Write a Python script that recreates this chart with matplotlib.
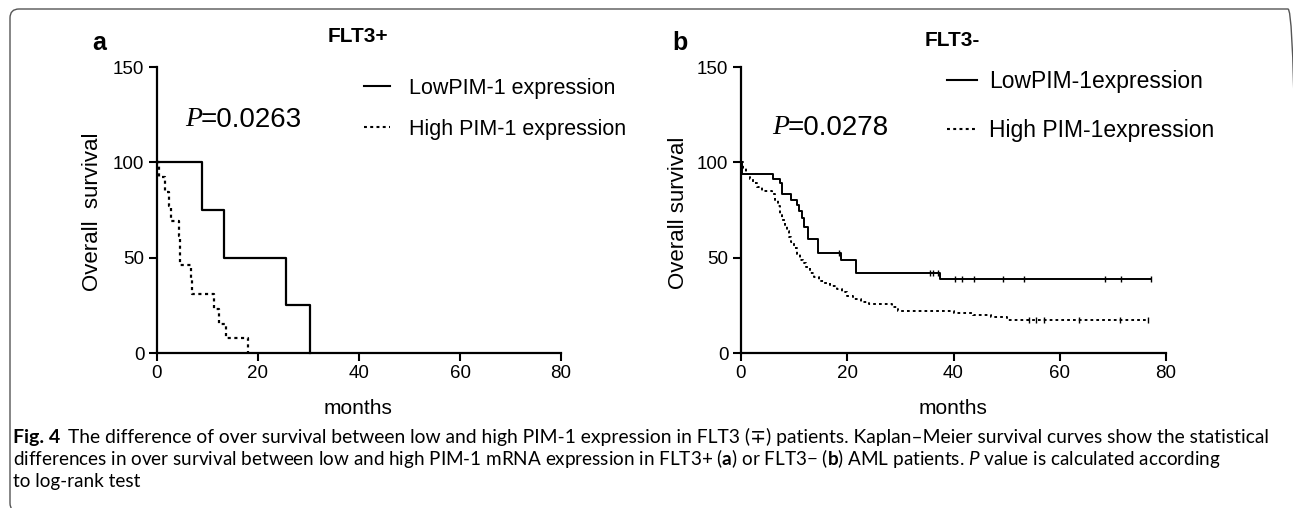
import matplotlib
matplotlib.use("Agg")
import matplotlib.pyplot as plt
from matplotlib.patches import FancyBboxPatch
from matplotlib.transforms import IdentityTransform
from matplotlib.lines import Line2D

plt.rcParams['font.family'] = ['Liberation Sans', 'DejaVu Sans']
plt.rcParams['mathtext.fontset'] = 'custom'
plt.rcParams['mathtext.rm'] = 'Lato'
plt.rcParams['mathtext.it'] = 'Lato:italic'
plt.rcParams['mathtext.bf'] = 'Lato:bold'

# panel a: FLT3+
low_a_t = [0, 9.0, 13.2, 25.5, 30.3]
low_a_s = [100, 75, 50, 25, 0]
high_a_t = [0, 0.4, 1.5, 2.4, 2.7, 4.3, 4.5, 4.6, 6.8, 7.0, 11.3, 12.3, 13.6, 18.0]
high_a_s = [100, 92.3, 84.6, 76.9, 69.2, 61.5, 53.8, 46.2, 38.5, 30.8, 23.1, 15.4, 7.7, 0]

# panel b: FLT3-
low_b_t = [0, 0.2, 6.0, 7.3, 7.8, 9.5, 10.5, 11.0, 11.5, 11.8, 12.6, 14.5, 18.8, 21.7, 37.4, 77.2]
low_b_s = [100, 93.7, 91.5, 89, 83.5, 80.5, 77.5, 74.5, 71, 66, 60, 52.5, 49, 42, 39, 39]
low_b_cens_t = [18.4, 35.5, 36.2, 37.0, 40.2, 41.6, 43.9, 49.3, 53.3, 68.6, 71.6, 77.2]
low_b_cens_s = [52.5, 42, 42, 42, 39, 39, 39, 39, 39, 39, 39, 39]
high_b_t = [0, 0.4, 1.0, 1.6, 2.2, 3.0, 4.0, 5.8, 6.4, 6.9, 7.3, 7.8, 8.3, 8.7, 9.1, 9.5,
            10.0, 10.6, 11.1, 11.7, 12.2, 13.0, 13.8, 14.6, 15.6, 16.8, 18.0, 19.0, 20.0,
            21.0, 22.5, 24.0, 28.5, 29.5, 38.0, 40.0, 43.7, 47.0, 50.0, 76.7]
high_b_s = [100, 97, 94, 91.5, 89, 87, 85, 83.5, 80, 77, 73, 70, 67, 64, 61, 58,
            55, 52, 49, 47, 45, 42, 40, 38, 36.5, 35, 33.5, 32, 30,
            28.5, 27, 25.5, 24, 22, 22, 21, 20, 19, 17.5, 17.5]
high_b_cens_t = [54.3, 55.5, 57.0, 63.7, 71.3, 76.7]
high_b_cens_s = [17.5, 17.5, 17.5, 17.5, 17.5, 17.5]

xticks = [0, 20, 40, 60, 80]
yticks = [0, 50, 100, 150]

fig = plt.figure(figsize=(12.93, 5.08), dpi=100)

# rounded frame, cut off at the bottom and right like the page crop
frame = FancyBboxPatch((10, -4), 1287, 503, boxstyle="round,pad=0,rounding_size=9",
                       transform=IdentityTransform(), fill=False, edgecolor='#555555', lw=1.0)
fig.patches.append(frame)

W, H = 1293, 508
ax_a = fig.add_axes([157 / W, 1 - 353 / H, 404 / W, 286 / H])
ax_b = fig.add_axes([741 / W, 1 - 353 / H, 425 / W, 286 / H])

dot = (0, (1.4, 1.6))

ax_a.step(low_a_t, low_a_s, where='post', color='black', lw=1.6, clip_on=False)
ax_a.step(high_a_t, high_a_s, where='post', color='black', lw=1.6, ls=dot, clip_on=False)

ax_b.step(low_b_t, low_b_s, where='post', color='black', lw=1.4, clip_on=False)
ax_b.step(high_b_t, high_b_s, where='post', color='black', lw=1.4, ls=dot, clip_on=False)
ax_b.plot(low_b_cens_t, low_b_cens_s, ls='none', marker='|', ms=5, mew=1.0, color='black')
ax_b.plot(high_b_cens_t, high_b_cens_s, ls='none', marker='|', ms=4, mew=1.0, color='black')

for ax in (ax_a, ax_b):
    ax.set_xlim(0, 80)
    ax.set_ylim(0, 150)
    ax.set_xticks(xticks)
    ax.set_yticks(yticks)
    for side in ('top', 'right'):
        ax.spines[side].set_visible(False)
    for side in ('left', 'bottom'):
        ax.spines[side].set_linewidth(1.6)
    ax.tick_params(direction='out', length=6, width=1.5, labelsize=13.5, pad=3)
    ax.patch.set_alpha(0)

# titles, panel letters, axis labels
fig.text(358 / W, 1 - 37 / H, 'FLT3+', ha='center', va='center', fontsize=15, fontweight='bold')
fig.text(952 / W, 1 - 40 / H, 'FLT3-', ha='center', va='center', fontsize=15, fontweight='bold')
fig.text(99 / W, 1 - 43 / H, 'a', ha='center', va='center', fontsize=18, fontweight='bold')
fig.text(680 / W, 1 - 43 / H, 'b', ha='center', va='center', fontsize=18, fontweight='bold')
fig.text(93 / W, 1 - 212 / H, 'Overall  survival', rotation=90, ha='center', va='center', fontsize=16)
fig.text(679 / W, 1 - 213 / H, 'Overall survival', rotation=90, ha='center', va='center', fontsize=16)
fig.text(358 / W, 1 - 408 / H, 'months', ha='center', va='center', fontsize=15)
fig.text(953 / W, 1 - 408 / H, 'months', ha='center', va='center', fontsize=15)

# p values
fig.text(185 / W, 1 - 120 / H, 'P', ha='left', va='center', fontsize=20,
         family='Liberation Serif', style='italic')
fig.text(201 / W, 1 - 120 / H, '=0.0263', ha='left', va='center', fontsize=20)
fig.text(772 / W, 1 - 128 / H, 'P', ha='left', va='center', fontsize=20,
         family='Liberation Serif', style='italic')
fig.text(788 / W, 1 - 128 / H, '=0.0278', ha='left', va='center', fontsize=20)

# legends
h_low = Line2D([], [], color='black', lw=1.5)
h_high = Line2D([], [], color='black', lw=1.5, ls=dot)
ax_a.legend([h_low, h_high], ['LowPIM-1 expression', 'High PIM-1 expression'],
            loc='upper left', bbox_to_anchor=(364 / W, 1 - 78 / H), bbox_transform=fig.transFigure,
            frameon=False, fontsize=15.5, handlelength=1.2, handletextpad=0.9,
            labelspacing=0.92, borderpad=0, borderaxespad=0)
ax_b.legend([h_low, h_high], ['LowPIM-1expression', 'High PIM-1expression'],
            loc='upper left', bbox_to_anchor=(947 / W, 1 - 70 / H), bbox_transform=fig.transFigure,
            frameon=False, fontsize=16.5, handlelength=1.3, handletextpad=0.55,
            labelspacing=1.12, borderpad=0, borderaxespad=0)

# caption
cap_kw = dict(ha='left', va='center', family=['Lato', 'DejaVu Sans'])
fig.text(13 / W, 1 - 437 / H, 'Fig. 4', fontweight='bold', fontsize=14, **cap_kw)
fig.text(68 / W, 1 - 437 / H,
         'The difference of over survival between low and high PIM-1 expression in FLT3 (\u2213) '
         'patients. Kaplan\u2013Meier survival curves show the statistical', fontsize=13.9, **cap_kw)
fig.text(13 / W, 1 - 459 / H,
         r'differences in over survival between low and high PIM-1 mRNA expression in FLT3+ '
         r'($\mathbf{a}$) or FLT3$-$ ($\mathbf{b}$) AML patients. $\mathit{P}$ value is calculated according',
         fontsize=13.6, **cap_kw)
fig.text(13 / W, 1 - 482 / H, 'to log-rank test', fontsize=13.6, **cap_kw)

fig.savefig('out.png', dpi=100)
